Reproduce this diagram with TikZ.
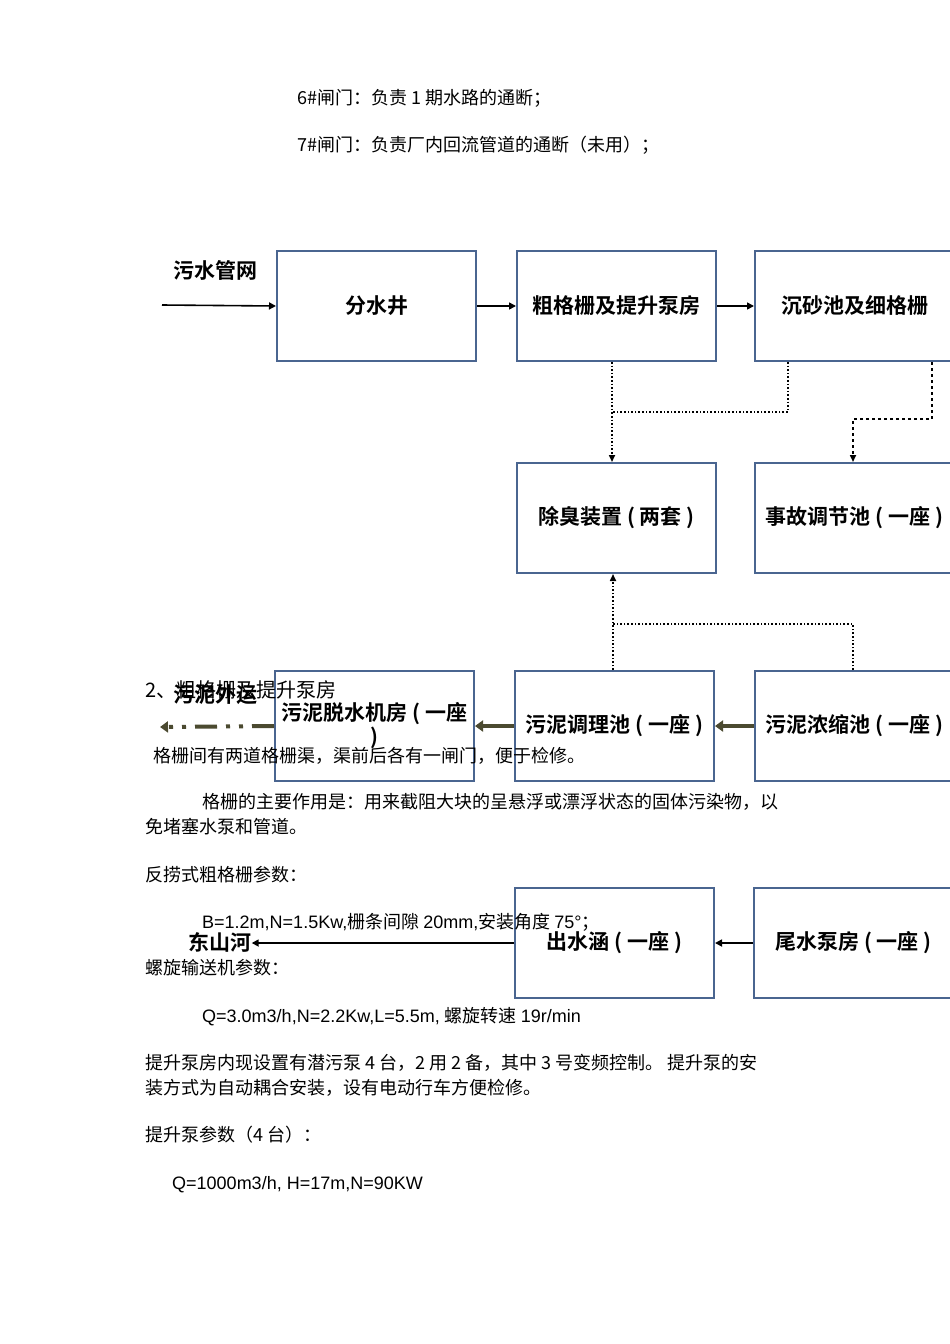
\documentclass[tikz,border=0pt]{standalone}
\usepackage{fontspec}
\setmainfont{Liberation Sans}
\newfontfamily\cjk{Noto Sans CJK SC}
\newfontfamily\cjkb{Noto Sans CJK SC Bold}
\usetikzlibrary{arrows.meta}
\definecolor{boxc}{HTML}{4A6590}
\definecolor{olive}{HTML}{4B4A30}
\begin{document}
\begin{tikzpicture}[x=1pt,y=-1pt,
  box/.style={draw=boxc,line width=2pt,fill=white,minimum width=199pt,minimum height=110pt,anchor=north west,inner sep=0pt,align=center,font=\cjkb\fontsize{21}{24}\selectfont},
  wbox/.style={box,minimum width=215pt},
  body/.style={anchor=base west,inner sep=0pt,font=\cjk\fontsize{18}{21}\selectfont},
  lbl/.style={inner sep=0pt,font=\cjkb\fontsize{21}{24}\selectfont},
  arr/.style={line width=1.6pt,-{Triangle[length=7pt,width=7pt]}},
  dot/.style={line width=1.6pt,dotted,-{Triangle[length=7pt,width=6pt]}},
  dsh/.style={line width=1.6pt,dashed,-{Triangle[length=7pt,width=6pt]}},
  sl/.style={line width=4pt,olive,-{Triangle[length=8pt,width=11pt]}}]
\useasboundingbox (0,0) rectangle (950,1344);
\clip (0,0) rectangle (950,1344);
% boxes
\node[box]  (fsj) at (276,250) {分水井};
\node[box]  (cgs) at (516,250) {粗格栅及提升泵房};
\node[wbox] (csc) at (754,250) {沉砂池及细格栅\hspace*{16pt}};
\node[box]  (ccz) at (516,462) {除臭装置 ( 两套 )};
\node[wbox] (sgt) at (754,462) {事故调节池 ( 一座 )\hspace*{16pt}};
\node[box]  (wnt) at (274,670) {污泥脱水机房 ( 一座\\)};
\node[box]  (wtl) at (514,670) {污泥调理池 ( 一座 )};
\node[wbox] (wns) at (754,670) {污泥浓缩池 ( 一座 )\hspace*{16pt}};
\node[box]  (csh) at (514,887) {出水涵 ( 一座 )};
\node[wbox] (wsb) at (753,887) {尾水泵房 ( 一座 )\hspace*{16pt}};
% labels
\node[lbl] (wsgw) at (215,270) {污水管网};
\node[lbl] (wnwy) at (215,695) {污泥外运};
\node[lbl] (dsh) at (220,942) {东山河};
\coordinate (in) at (162,305);
\coordinate (out1) at (160,727);
% main flow
\draw[arr] (in) -- (fsj.west);
\draw[arr] (fsj.east) -- (cgs.west);
\draw[arr] (cgs.east) -- (csc.west);
% odor lines
\coordinate (c1) at (612,412);
\coordinate (c2) at (788,412);
\draw[line width=1.6pt,dotted] (csc.south west -| c2) -- (c2) -- (c1);
\draw[dot] (cgs.south west -| c1) -- (ccz.north west -| c1);
\coordinate (d1) at (932,419);
\coordinate (d2) at (853,419);
\draw[dsh] (csc.south west -| d1) -- (d1) -- (d2) -- (sgt.north west -| d2);
\coordinate (e1) at (613,624);
\coordinate (e2) at (853,624);
\draw[line width=1.6pt,dotted] (wns.north west -| e2) -- (e2) -- (e1);
\draw[dot] (wtl.north west -| e1) -- (ccz.south west -| e1);
% sludge
\draw[sl] (wns.west) -- (wtl.east);
\draw[sl] (wtl.west) -- (wnt.east);
\draw[sl,dash pattern=on 22pt off 9pt on 4pt off 9pt on 4pt off 9pt] (wnt.west) -- (out1);
% effluent
\draw[arr] (wsb.west) -- (csh.east);
\draw[arr] (csh.west) -- (dsh.east |- csh.west);
% body text
\node[body] (t1) at (297,104) {6\#闸门：负责 1 期水路的通断；};
\node[body] (t2) at (297,151) {7\#闸门：负责厂内回流管道的通断（未用）；};
\node[body] (t3) at (145,697) {{\fontsize{20}{22}\selectfont 2、粗格栅及提升泵房}};
\node[body] (t4) at (153,762) {格栅间有两道格栅渠，渠前后各有一闸门，便于检修。};
\node[body] (t5) at (202,808) {格栅的主要作用是：用来截阻大块的呈悬浮或漂浮状态的固体污染物，以};
\node[body] (t6) at (145,833) {免堵塞水泵和管道。};
\node[body] (t7) at (145,881) {反捞式粗格栅参数：};
\node[body] (t8) at (202,928) {\rmfamily B=1.2m,N=1.5Kw,\cjk 栅条间隙 \rmfamily 20mm,\cjk 安装角度 \rmfamily 75°\cjk ；};
\node[body] (t9) at (145,974) {螺旋输送机参数：};
\node[body] (t10) at (202,1022) {\rmfamily Q=3.0m3/h,N=2.2Kw,L=5.5m, \cjk 螺旋转速 \rmfamily 19r/min};
\node[body] (t11) at (145,1069) {提升泵房内现设置有潜污泵 4 台，2 用 2 备，其中 3 号变频控制。 提升泵的安};
\node[body] (t12) at (145,1094) {装方式为自动耦合安装，设有电动行车方便检修。};
\node[body] (t13) at (145,1141) {提升泵参数（4 台）：};
\node[body] (t14) at (172,1189) {\rmfamily Q=1000m3/h, H=17m,N=90KW};
\end{tikzpicture}
\end{document}
